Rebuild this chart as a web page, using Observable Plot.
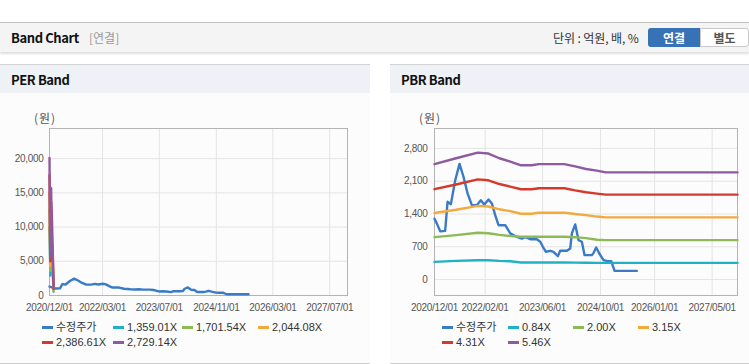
<!DOCTYPE html>
<html><head><meta charset="utf-8">
<script src="https://cdn.jsdelivr.net/npm/d3@7"></script>
<script src="https://cdn.jsdelivr.net/npm/@observablehq/plot@0.6"></script>
<style>
body{margin:0;background:#fff;}
#page{position:relative;width:749px;height:364px;overflow:hidden;font-family:"Noto Sans CJK KR","Noto Sans",sans-serif;color:#222;}
.abs{position:absolute;}
.topbar{left:0;top:22px;width:749px;height:29px;background:#f4f4f4;border-top:1px solid #c2c2c2;box-shadow:0 2px 2px rgba(0,0,0,0.13);}
.title{left:11px;top:22px;line-height:31px;font-size:13px;font-weight:bold;color:#111;letter-spacing:-0.4px;}
.sub{left:89px;top:22px;line-height:31px;font-size:12px;color:#999;}
.unit{left:553px;top:22px;line-height:31px;font-size:12px;color:#333;letter-spacing:-0.1px;}
.btn1{left:648px;top:28px;width:52px;height:19px;line-height:19px;background:#3672b5;color:#fff;font-size:12px;font-weight:bold;text-align:center;border-radius:3px 0 0 3px;}
.btn2{left:700px;top:28px;width:47px;height:17px;line-height:17px;background:#fff;border:1px solid #c9c9c9;color:#555;font-size:12px;font-weight:bold;text-align:center;border-radius:0 3px 3px 0;}
.panel{top:64px;height:298px;background:#fcfcfc;border-top:1px solid #d4d4d4;border-bottom:1px solid #cfcfcf;}
.phead{top:65px;height:28px;background:#eef1f6;}
.ptitle{top:65px;line-height:29px;font-size:13px;font-weight:bold;color:#111;letter-spacing:-0.4px;}
.unitlabel{top:109px;font-size:12px;color:#555;letter-spacing:1px;}
.leg{font-size:11px;color:#333;font-family:"Liberation Sans","Noto Sans CJK KR",sans-serif;white-space:nowrap;line-height:14px;}
.sw{display:inline-block;width:11px;height:3px;vertical-align:middle;margin-right:3px;position:relative;top:-1px;}
</style></head>
<body><div id="page">
<div class="abs topbar"></div>
<div class="abs title">Band Chart</div>
<div class="abs sub">[연결]</div>
<div class="abs unit">단위 : 억원, 배, %</div>
<div class="abs btn1">연결</div>
<div class="abs btn2">별도</div>
<div class="abs panel" style="left:0;width:370px"></div>
<div class="abs panel" style="left:390px;width:359px"></div>
<div class="abs phead" style="left:0;width:370px"></div>
<div class="abs phead" style="left:390px;width:359px"></div>
<div class="abs ptitle" style="left:11px">PER Band</div>
<div class="abs ptitle" style="left:401px">PBR Band</div>
<div class="abs unitlabel" style="left:34px">(원)</div>
<div class="abs unitlabel" style="left:419px">(원)</div>
<div id="per" class="abs" style="left:0;top:105px"></div>
<div id="pbr" class="abs" style="left:390px;top:105px"></div>
<div id="legs"></div>
</div>
<script>
// ---- data ----
const priceDates = ["2020-12-01","2020-12-20","2021-01-18","2021-03-01","2021-03-21","2021-04-18","2021-05-25","2021-06-30","2021-08-03","2021-09-06","2021-10-12","2021-11-24","2021-12-27","2022-01-24","2022-03-02","2022-03-30","2022-04-27","2022-05-25","2022-07-21","2022-09-01","2022-10-27","2022-12-08","2023-01-04","2023-02-16","2023-04-13","2023-05-12","2023-06-03","2023-06-29","2023-08-04","2023-09-01","2023-10-08","2023-10-27","2023-12-23","2024-01-20","2024-02-03","2024-03-02","2024-03-30","2024-04-27","2024-05-20","2024-07-21","2024-08-04","2024-08-26","2024-09-21","2024-10-27","2024-11-24","2024-12-31","2025-01-28","2025-08-04"];
const priceValues = [1300,1200,1030,1040,1660,1610,2120,2470,2190,1840,1590,1590,1695,1600,1710,1625,1375,1160,1160,985,910,875,910,862,862,807,700,593,614,593,500,614,614,664,985,1178,843,807,521,521,571,685,557,414,400,393,186,186];

const perBandDates = ["2020-12-01","2020-12-08","2020-12-15","2020-12-22","2020-12-29","2021-01-05"];
const perBandLabels = ["1,359.01X","1,701.54X","2,044.08X","2,386.61X","2,729.14X"];
const perBand1 = [10000,2900,7800,5600,3300,550];
const perBand2 = [12500,3600,9800,7000,4100,690];
const perBand3 = [15000,4300,11700,8400,4950,830];
const perBand4 = [17600,5000,13700,11200,5800,960];
const perBand5 = [20100,5700,15700,6700,6600,1100];

const pbrBandDates = ["2020-12-01","2021-06-01","2021-12-01","2022-03-01","2022-06-01","2022-09-01","2022-12-01","2023-03-01","2023-05-01","2023-12-01","2024-03-01","2024-06-01","2024-09-01","2024-11-15","2027-12-01"];
const pbrBandLabels = ["0.84X","2.00X","3.15X","4.31X","5.46X"];
const pbrBand1 = [378,400,414,414,400,392,365,364,366,366,362,360,357,357,357];
const pbrBand2 = [905,950,1000,990,955,930,914,914,914,914,905,885,850,843,843];
const pbrBand3 = [1420,1490,1573,1560,1500,1460,1405,1405,1428,1428,1400,1375,1345,1328,1328];
const pbrBand4 = [1930,2030,2140,2120,2040,1985,1928,1928,1950,1950,1905,1865,1835,1813,1813];
const pbrBand5 = [2465,2590,2710,2690,2590,2520,2440,2440,2465,2465,2415,2360,2325,2288,2288];

const perXTicks = ["2020-12-01","2022-03-01","2023-07-01","2024-11-01","2026-03-01","2027-07-01"];
const pbrXTicks = ["2020-12-01","2022-02-01","2023-06-01","2024-10-01","2026-01-01","2027-05-01"];
const perYTicks = [0,5000,10000,15000,20000];
const pbrYTicks = [0,700,1400,2100,2800];
const priceLabel = "수정주가";

// ---- styling ----
const colors = ["#3a7bc8","#1fb1c6","#8cbb55","#f4a93c","#d33a2d","#8e5aa0"];
const xDomain = [new Date("2020-12-01"), new Date("2027-12-01")];
const fmtDate = d3.utcFormat("%Y/%m/%d");
const fmtNum = d3.format(",");

const price = priceDates.map((d,i)=>({date:new Date(d), value:priceValues[i]}));
function band(dates, vals){ return dates.map((d,i)=>({date:new Date(d), value:vals[i]})); }

function makeChart(opts){
  const {width, marginLeft, marginRight, yDomain, yTicks, xTicks, bands, tickPadY} = opts;
  const xt = xTicks.map(d=>new Date(d));
  const marks = [
    Plot.gridX(xt, {stroke:"#e4e4e4", strokeOpacity:1}),
    Plot.gridY(yTicks, {stroke:"#e4e4e4", strokeOpacity:1}),
    Plot.frame({stroke:"#b3b3b3"}),
    Plot.axisX(xt, {tickSize:0, tickPadding:8, tickFormat:fmtDate, fill:"#555", label:null}),
    Plot.axisY(yTicks, {tickSize:0, tickPadding:tickPadY, tickFormat:fmtNum, fill:"#555", label:null}),
    Plot.line(price, {x:"date", y:"value", stroke:colors[0], strokeWidth:2.4, curve:"linear"})
  ];
  bands.forEach((b,i)=>{
    marks.push(Plot.line(b, {x:"date", y:"value", stroke:colors[i+1], strokeWidth:2.4}));
  });
  return Plot.plot({
    width, height:215, marginLeft, marginRight, marginTop:23, marginBottom:25,
    style:{fontFamily:"'Liberation Sans', sans-serif", fontSize:"10px", letterSpacing:"-0.3px", background:"transparent", overflow:"visible"},
    x:{type:"utc", domain:xDomain},
    y:{domain:yDomain},
    marks
  });
}

document.getElementById("per").appendChild(makeChart({
  width:370, marginLeft:49, marginRight:23, yDomain:[0,24400], yTicks:perYTicks, xTicks:perXTicks, tickPadY:6,
  bands:[perBand1,perBand2,perBand3,perBand4,perBand5].map(v=>band(perBandDates,v))
}));
document.getElementById("pbr").appendChild(makeChart({
  width:359, marginLeft:44, marginRight:12, yDomain:[-340,3225], yTicks:pbrYTicks, xTicks:pbrXTicks, tickPadY:7,
  bands:[pbrBand1,pbrBand2,pbrBand3,pbrBand4,pbrBand5].map(v=>band(pbrBandDates,v))
}));

// ---- legends ----
const perLegPos = [[42,320],[113,320],[182,320],[258,320],[42,335],[113,335]];
const pbrLegPos = [[442,320],[508,320],[573,320],[638,320],[442,335],[508,335]];
function legend(labels, pos){
  const all = [priceLabel, ...labels];
  all.forEach((t,i)=>{
    const el = document.createElement("div");
    el.className = "abs leg";
    el.style.left = pos[i][0]+"px";
    el.style.top = pos[i][1]+"px";
    el.innerHTML = `<span class="sw" style="background:${colors[i]}"></span>`;
    el.appendChild(document.createTextNode(t));
    document.getElementById("legs").appendChild(el);
  });
}
legend(perBandLabels, perLegPos);
legend(pbrBandLabels, pbrLegPos);
</script>
</body></html>
